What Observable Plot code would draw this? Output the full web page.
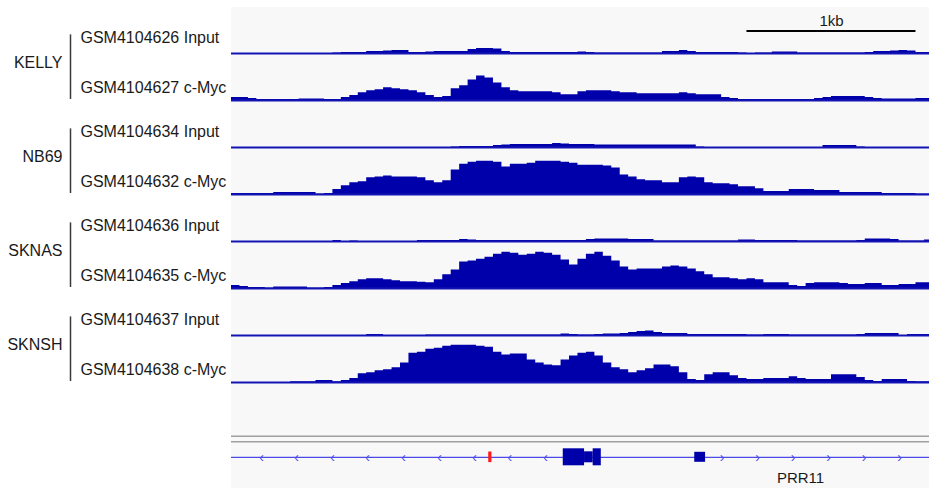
<!DOCTYPE html>
<html><head><meta charset="utf-8">
<script src="https://cdn.jsdelivr.net/npm/d3@7"></script>
<script src="https://cdn.jsdelivr.net/npm/@observablehq/plot@0.6"></script>
<style>
body{margin:0;background:#fff;font-family:"Liberation Sans",Arial,sans-serif;}
#wrap{position:relative;width:929px;height:488px;overflow:hidden;}
#panel{position:absolute;left:231px;top:7px;width:698px;height:481px;background:#f8f8f8;}
#tracks,#genes{position:absolute;left:0;}
#tracks{top:0px;}
#genes{top:400px;}
</style></head><body>
<div id="wrap"><div id="panel"></div><div id="tracks"></div><div id="genes"></div></div>
<script>
// ---- data ----
const viewStart = 0, viewEnd = 4130, binSize = 50; // bp
const groups = ["KELLY", "NB69", "SKNAS", "SKNSH"];
const inputTracks = ["GSM4104626 Input", "GSM4104634 Input", "GSM4104636 Input", "GSM4104637 Input"];
const mycTracks = ["GSM4104627 c-Myc", "GSM4104632 c-Myc", "GSM4104635 c-Myc", "GSM4104638 c-Myc"];

const kellyInput = [0,0,0,0,0,0,0,0,0,0,0,0,0.5,1,1,1,2,2,2.5,3,3,1,1,1.5,2,2,2,2,4,5,5,4.5,2,1,1,1,1,1,1,1,1,1.5,1,0.5,0.5,0.5,0.5,0.5,0.5,0.5,0.5,2,2,3,2,1,1,1,1,1,0.5,0,0.5,0.5,1.5,1.5,1.5,0.5,0.5,0.5,0.5,0.5,0.5,0.5,0.5,1,2,2,2.5,3,2.5,1,1];
const kellyMyc = [3,3,2,1,1,1,1,1,1.5,1.5,1.5,1,1,3,5,8,10,11,13,12,11,10,8,5,3,4,12,15,21,25,23,18,13,10,9,9,9,9,8,6,6,9,10,10,10,9,8,8,7,7,7,7,7,8,7,6,6,6,3,2,1,1,1,1,1,1,1,1,1,2,3,4,4,4,4,3,2,1.5,1.5,1.5,1.5,2,2];
const nb69Input = [0,0,0,0,0,0,0,0,0,0,0,0,0,0,0,0,0,0,0,0,0,0,0,0,0,0,0.5,1,1,1,1,2,2.5,3,3,3,3,3,4,3.5,3,3,3,2.5,2.5,2.5,2.5,2.5,2.5,2.5,2.5,2.5,2.5,2.5,2.5,0.5,0,0,0,0,0,0,0,0,0,0,0,0,0,0,2,2,2,2,0.5,0,0,0,0,0,0,0,0];
const nb69Myc = [1,1,1,1,1,2,2,2,2,2,0.5,1,5,9,12,13,17,18,19,18,18,18,17,14,12,14,25,31,33,34,34,33,28,31,31,32,34,34,34,33,32,30,30,30,29,27,20,18,15,14,14,12,12,17,18,17,12,11,11,10,8,8,6,3,3,3,5,5,5,4,4,4,2,2,2,2,2,1,1,1,1,0.5,0.5];
const sknasInput = [0,0,0,0,0,0,0,0,0,0,0,0,1,0,0.5,0,0,0,0,0,0,0,1,1,1,1,1,2,1.5,1,1,1,1,1,1,1,1,1,1,1,1,1,2,2.5,2.5,2.5,2.5,2,2,2,0.5,0.5,0.5,0.5,0.5,0.5,0.5,0.5,0.5,0.5,1.5,1.5,1,1,1,1,1,0.5,0.5,0.5,0.5,0.5,0.5,0.5,1,2.5,2.5,2.5,2,0.5,0.5,0.5,1.5];
const sknasMyc = [3,2,1,1,0.5,1.5,1.5,1.5,1.5,0.5,0.5,1,3,5,7,9,10,10,9,8,7,7,6.5,6,9,14,19,27,28,30,32,35,37,36,34,35,37,36,34,29,24,30,35,37,33,28,22,19,20,20,20,22,23,22,20,17,14,11,11,10,9,10,9,6,6,6,3,2,5,6,6,6,5,4,4,5,5,3,3,4,4,6,6];
const sknshInput = [0,0,0,0,0,0,0,0,0,0,0,0,0,0,0,0,1,1,0,0,0,0,0,0.5,0.5,0.5,0.5,0.5,0.5,0.5,0.5,0.5,0.5,0.5,0.5,0.5,0.5,0.5,0.5,1.5,1,0.5,0.5,1,1.5,1.5,2,3,4,4.5,3,2,2,2,1,1,1,1,1,1,1,0.5,0.5,1,1,1,0.5,0.5,0.5,0.5,0.5,0.5,0.5,0.5,1,2,2,2,2,0,1,1,1];
const sknshMyc = [0,0,0,0,0,0,0,0.7,0.7,0.7,2,2,0.7,2,4,9,10,12,13,15,20,30,31,34,35,37,38,38,38,37,36,31,28,29,29,23,20,18,17,23,27,30,31,27,20,15,13,10,12,14,18,18,16,10,3,2,8,10,10,7,4,3,3,4,4,4,6,4,3,3,3,8,8,8,5,2,1,3,3,3,1,0.7,0.7];

const scaleBar = {start: 3050, end: 4050, label: "1kb"};

// gene features (bp)
const exonStarts = [1963, 2089, 2140, 2741];
const exonEnds   = [2089, 2140, 2188, 2805];
const exonKinds  = ["cds", "narrow", "cds", "utr"];
const variant = {start: 1522, end: 1541};
const minusChevrons = [178, 385, 598, 805, 1018, 1231, 1438, 1647, 1858];
const plusChevrons  = [2903, 3113, 3323, 3533, 3743, 3953];
const geneLabel = {name: "PRR11", pos: 3367};

// ---- build tables ----
const trackIds = [];
const trackValues = [kellyInput, kellyMyc, nb69Input, nb69Myc, sknasInput, sknasMyc, sknshInput, sknshMyc];
groups.forEach((g, i) => { trackIds.push(inputTracks[i], mycTracks[i]); });
const rows = [];
trackIds.forEach((t, k) => {
  const vals = trackValues[k];
  vals.forEach((v, i) => rows.push({track: t, pos: viewStart + i * binSize, value: v}));
  rows.push({track: t, pos: viewEnd, value: vals[vals.length - 1]});
});

const FONT = '"Liberation Sans", Arial, sans-serif';
const FILL = "#0000aa";
const TEXT = "#1a1a1a";

const bandH = 47.57;
const tracksPlot = Plot.plot({
  width: 929, height: 400,
  marginLeft: 231, marginRight: 0, marginTop: 51 - bandH, marginBottom: 400 - 51 - 7 * bandH,
  x: {domain: [viewStart, viewEnd], axis: null},
  y: {domain: [0, 48], axis: null},
  fy: {domain: trackIds, padding: 0, axis: null},
  style: {background: "transparent", fontFamily: FONT},
  marks: [
    Plot.areaY(rows, {x: "pos", y: "value", fy: "track", curve: "step-after", fill: FILL}),
    Plot.ruleY(trackIds, {y: 0, fy: d => d, stroke: "#1414b4", strokeWidth: 2.2}),
    Plot.text(inputTracks, {fy: d => d, text: d => d, frameAnchor: "bottom-left", textAnchor: "start",
      dx: -151, dy: -10.5, fontSize: 16, fill: TEXT}),
    Plot.text(mycTracks, {fy: d => d, text: d => d, frameAnchor: "bottom-left", textAnchor: "start",
      dx: -151, dy: -8, fontSize: 16, fill: TEXT}),
    Plot.text(groups, {fy: (d, i) => mycTracks[i], text: d => d, frameAnchor: "bottom-left", textAnchor: "end",
      dx: -169, dy: -33, fontSize: 16, fill: TEXT}),
    Plot.ruleX(groups, {fy: (d, i) => mycTracks[i], x: viewStart, y1: 1, y2: 67, dx: -161,
      stroke: "#3a3a3a", strokeWidth: 1.5}),
    Plot.ruleY([scaleBar], {fy: () => trackIds[0], x1: "start", x2: "end", y: 23, stroke: "#000", strokeWidth: 2}),
    Plot.text([scaleBar], {fy: () => trackIds[0], x: d => (d.start + d.end) / 2, y: 33, text: "label",
      fontSize: 15, fill: TEXT})
  ]
});
document.getElementById("tracks").appendChild(tracksPlot);

const exons = exonStarts.map((s, i) => ({start: s, end: exonEnds[i], kind: exonKinds[i]}));
const halfH = {cds: 8.5, narrow: 5.5, utr: 5};
const chevrons = minusChevrons.map(p => ({pos: p, glyph: "‹"})).concat(plusChevrons.map(p => ({pos: p, glyph: "›"})));

const genePlot = Plot.plot({
  width: 929, height: 88,
  marginLeft: 231, marginRight: 0, marginTop: 0, marginBottom: 0,
  x: {domain: [viewStart, viewEnd], axis: null},
  y: {domain: [-1, 1], range: [57.8, 55.8], axis: null},
  style: {background: "transparent", fontFamily: FONT},
  marks: [
    Plot.ruleY([21, 15.5], {stroke: "#a0a0a0", strokeWidth: 1.5}),
    Plot.ruleY([0], {stroke: "#4a4ae6", strokeWidth: 1.2}),
    Plot.text(chevrons, {x: "pos", y: 0, text: "glyph", fill: "#4a4ae6", fontSize: 14}),
    Plot.rect(exons, {x1: "start", x2: "end", y1: d => -halfH[d.kind], y2: d => halfH[d.kind], fill: FILL}),
    Plot.rect([variant], {x1: "start", x2: "end", y1: -5.3, y2: 5.3, fill: "#ff1a1a"}),
    Plot.text([geneLabel], {x: "pos", y: -21, text: "name", fontSize: 15, fill: TEXT})
  ]
});
document.getElementById("genes").appendChild(genePlot);
</script></body></html>
